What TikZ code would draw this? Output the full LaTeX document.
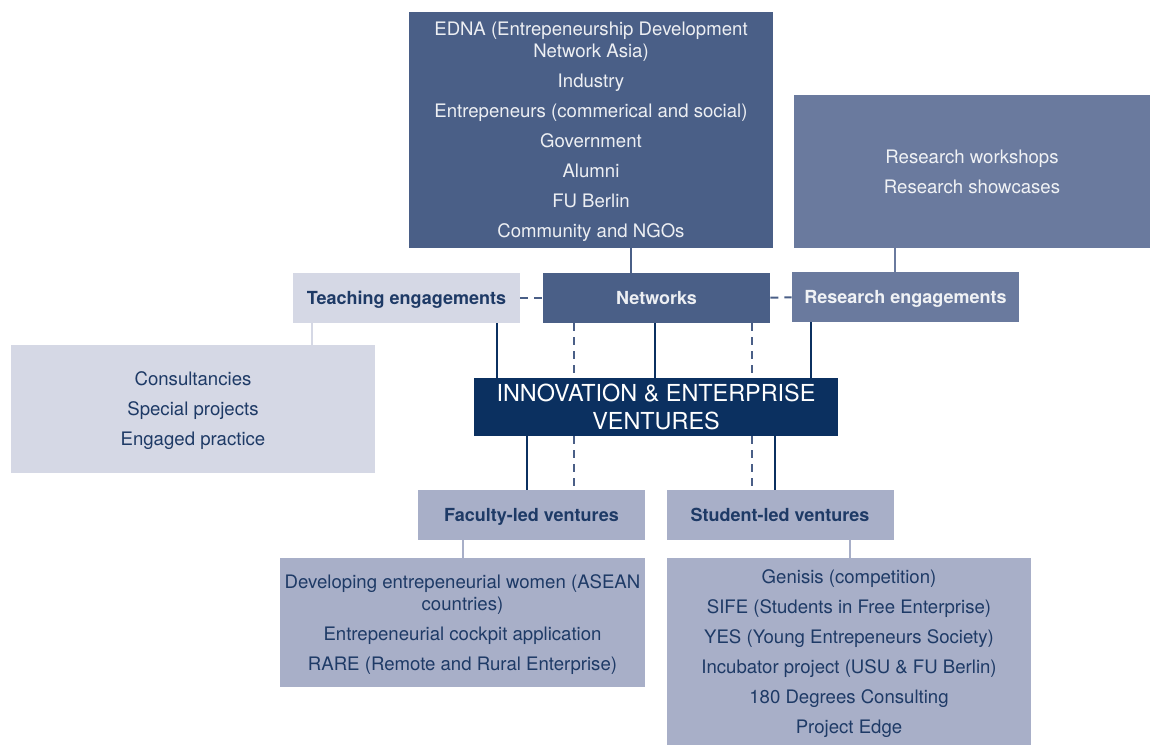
\documentclass[tikz,border=0pt]{standalone}
\usepackage{fontspec}
\setmainfont{TeX Gyre Heros}
\usetikzlibrary{positioning}
\definecolor{netblue}{HTML}{4A5F87}
\definecolor{resblue}{HTML}{6A7A9E}
\definecolor{paleblue}{HTML}{D5D8E5}
\definecolor{ventblue}{HTML}{A8AFC8}
\definecolor{innoblue}{HTML}{0B3060}
\definecolor{inkblue}{HTML}{1E3A66}
\tikzset{box/.style={rectangle, inner sep=0pt, text depth=0pt, align=center, font=\fontsize{9.3}{11}\selectfont}}
\tikzset{netbox/.style={box, fill=netblue, text=white!90!netblue}}
\tikzset{resbox/.style={box, fill=resblue, text=white!90!resblue}}
\tikzset{palebox/.style={box, fill=paleblue, text=inkblue}}
\tikzset{ventbox/.style={box, fill=ventblue, text=inkblue}}
\tikzset{head/.style={minimum width=113.5pt, minimum height=25pt, font=\fontsize{9}{11}\selectfont\bfseries}}
\tikzset{link/.style={draw=innoblue, line width=1.4pt}}
\tikzset{dlink/.style={draw=netblue, line width=1pt, dash pattern=on 4pt off 3pt}}
\newcommand{\gap}{\\[4pt]}

\begin{document}
\begin{tikzpicture}[x=0.5pt, y=-0.5pt]
	\useasboundingbox (0,0) rectangle (1150,745);

	% top row
	\node[netbox, minimum width=182pt, minimum height=118pt] (edna) at (591,130)
		{EDNA (Entrepeneurship Development\\Network Asia)\gap Industry\gap Entrepeneurs (commerical and social)\gap
		 Government\gap Alumni\gap FU Berlin\gap Community and NGOs};
	\node[resbox, minimum width=178pt, minimum height=76.5pt] (resinfo) at (972,171.5)
		{Research workshops\gap Research showcases};

	\node[palebox, head] (teach) at (406.5,298) {Teaching engagements};
	\node[netbox, head] (net) at (656.5,298) {Networks};
	\node[resbox, head] (reseng) at (905.5,297) {Research engagements};

	\node[palebox, minimum width=182pt, minimum height=64pt] (consult) at (193,409)
		{Consultancies\gap Special projects\gap Engaged practice};

	\node[box, fill=innoblue, text=white, minimum width=182pt, minimum height=29pt,
		font=\fontsize{11.7}{14}\selectfont] (inno) at (656,407) {INNOVATION \& ENTERPRISE\\VENTURES};

	\node[ventbox, head] (faculty) at (531.5,515) {Faculty-led ventures};
	\node[ventbox, head] (student) at (780,515) {Student-led ventures};

	\node[ventbox, minimum width=182.5pt, minimum height=64.5pt] (faclist) at (462.5,622.5)
		{Developing entrepeneurial women (ASEAN\\countries)\gap Entrepeneurial cockpit application\gap
		 RARE (Remote and Rural Enterprise)};
	\node[ventbox, minimum width=182pt, minimum height=93.5pt] (stulist) at (849,651.5)
		{Genisis (competition)\gap SIFE (Students in Free Enterprise)\gap YES (Young Entrepeneurs Society)\gap
		 Incubator project (USU \& FU Berlin)\gap 180 Degrees Consulting\gap Project Edge};

	\coordinate (cn) at (631,0);
	\coordinate (cr) at (895,0);
	\coordinate (ct) at (312,0);
	\coordinate (cf) at (463,0);
	\coordinate (cs) at (850,0);
	\coordinate (a1) at (497,0);
	\coordinate (a2) at (574,0);
	\coordinate (a3) at (655,0);
	\coordinate (a4) at (752,0);
	\coordinate (a5) at (811,0);
	\coordinate (b1) at (527,0);
	\coordinate (b2) at (775,0);

	% feeder boxes
	\draw[netblue, line width=1.4pt] (edna.south -| cn) -- (net.north -| cn);
	\draw[resblue, line width=1.4pt] (resinfo.south -| cr) -- (reseng.north -| cr);
	\draw[paleblue, line width=1.4pt] (teach.south -| ct) -- (consult.north -| ct);
	\draw[ventblue, line width=1.4pt] (faculty.south -| cf) -- (faclist.north -| cf);
	\draw[ventblue, line width=1.4pt] (student.south -| cs) -- (stulist.north -| cs);

	\draw[dlink] (teach) -- (net);
	\draw[dlink] (net) -- (reseng);

	% into the centre
	\draw[link] (teach.south -| a1) -- (inno.north -| a1);
	\draw[dlink] (net.south -| a2) -- (inno.north -| a2);
	\draw[link] (net.south -| a3) -- (inno.north -| a3);
	\draw[dlink] (net.south -| a4) -- (inno.north -| a4);
	\draw[link] (reseng.south -| a5) -- (inno.north -| a5);

	% out to the ventures
	\draw[link] (inno.south -| b1) -- (faculty.north -| b1);
	\draw[dlink] (inno.south -| a2) -- (faculty.north -| a2);
	\draw[dlink] (inno.south -| a4) -- (student.north -| a4);
	\draw[link] (inno.south -| b2) -- (student.north -| b2);
\end{tikzpicture}
\end{document}
